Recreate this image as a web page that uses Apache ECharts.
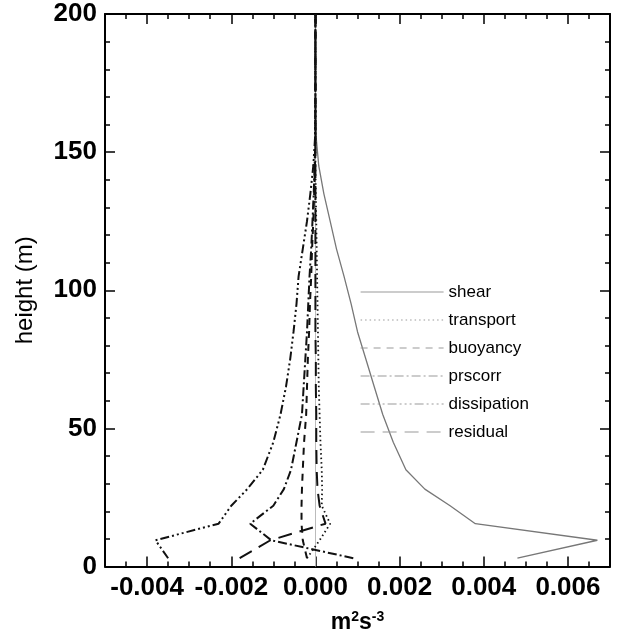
<!DOCTYPE html>
<html>
<head>
<meta charset="utf-8">
<script src="https://cdn.jsdelivr.net/npm/echarts@6/dist/echarts.min.js"></script>
<style>
  html, body { margin: 0; padding: 0; background: #fff; }
  #chart { width: 618px; height: 639px; }
</style>
</head>
<body>
<div id="chart"></div>
<script>
// heights (m) shared by all profiles
const heights = [3, 9.5, 15.5, 22, 28, 35, 45, 55, 65, 75, 85, 95, 105, 115, 125, 135, 145, 155, 170, 185, 200];

// budget terms, m2 s-3
const shear = [0.0048, 0.0067, 0.0038, 0.0032, 0.0026, 0.00215, 0.00185, 0.0016, 0.0014, 0.0012, 0.001, 0.00085, 0.00068, 0.0005, 0.00035, 0.0002, 0.00008, 0.00002, 0, 0, 0];
const transport = [-0.0002, 0.0001, 0.00035, 0.00015, 0.00016, 0.00015, 0.00012, 0.0001, 0.00008, 0.00007, 0.00006, 0.00005, 0.00004, 0.00003, 0.00002, 0.00001, 0, 0, 0, 0, 0];
const buoyancy = [-0.0002, -0.0003, -0.00033, -0.00033, -0.00032, -0.0003, -0.00027, -0.00022, -0.0002, -0.00018, -0.00015, -0.00013, -0.0001, -0.00008, -0.00005, -0.00003, -0.00001, 0, 0, 0, 0];
const prscorr = [0.0009, -0.00105, -0.00155, -0.001, -0.00075, -0.00058, -0.00045, -0.00032, -0.00028, -0.00024, -0.0002, -0.00017, -0.00014, -0.0001, -0.00007, -0.00004, -0.00002, 0, 0, 0, 0];
const dissipation = [-0.0035, -0.0038, -0.0023, -0.002, -0.00162, -0.00125, -0.001, -0.00083, -0.0007, -0.0006, -0.00052, -0.00045, -0.0004, -0.0003, -0.0002, -0.00012, -0.00005, -0.00001, 0, 0, 0];
const residual = [-0.0018, -0.00107, 0.00024, 0.0001, 0.00005, 0.00003, 0.00002, 0.00002, 0.00001, 0.00001, 0, 0, 0, 0, 0, 0, 0, 0, 0, 0, 0];

const xMajor = [-0.004, -0.002, 0, 0.002, 0.004, 0.006];

const chart = echarts.init(document.getElementById("chart"));

const font = "'Liberation Sans', Arial, sans-serif";
const axisLine = { show: true, onZero: false, lineStyle: { color: "#000", width: 2 } };
const noLine = { show: false, onZero: false };
const tickStyle = { width: 1.5, color: "#000" };

// pair each value with its height
const profile = (vals) => vals.map((v, i) => [v, heights[i]]);

const mkSeries = (name, vals, color, type, width) => ({
  name: name,
  type: "line",
  data: profile(vals),
  symbol: "none",
  lineStyle: { color: color, type: type, width: width },
  itemStyle: { color: color },
  z: 3,
});

const seriesShear = mkSeries("shear", shear, "#777", "solid", 1.3);
// thin grey zero line
seriesShear.markLine = {
  silent: true,
  symbol: "none",
  label: { show: false },
  lineStyle: { color: "#bbb", type: "solid", width: 1 },
  data: [{ xAxis: 0 }],
  z: 1,
};

const options = {
  animation: false,
  textStyle: { fontFamily: font },
  grid: { left: 105, right: 8, top: 14, bottom: 69 },
  legend: {
    orient: "vertical",
    left: 360,
    top: 283,
    padding: 0,
    itemWidth: 83,
    itemHeight: 14,
    itemGap: 10,
    itemStyle: { opacity: 0 },
    textStyle: { fontSize: 17, lineHeight: 18, color: "#000", fontFamily: font },
    lineStyle: { color: "#999", width: 1.2 },
    data: ["shear", "transport", "buoyancy", "prscorr", "dissipation", "residual"],
  },
  xAxis: [
    {
      // minor ticks, bottom
      type: "value", position: "bottom", min: -0.005, max: 0.007, interval: 0.0005,
      axisLine: axisLine,
      axisTick: { inside: true, length: 5, lineStyle: tickStyle },
      axisLabel: { show: false }, splitLine: { show: false },
    },
    {
      // major ticks + labels, bottom
      type: "value", position: "bottom", min: -0.005, max: 0.007,
      axisLine: noLine,
      axisTick: { inside: true, length: 10, customValues: xMajor, lineStyle: tickStyle },
      axisLabel: {
        customValues: xMajor, margin: 8,
        fontSize: 26, fontWeight: "bold", color: "#000", fontFamily: font,
        formatter: (v) => v.toFixed(3),
      },
      splitLine: { show: false },
      name: "m{sup|2}s{sup|-3}",
      nameLocation: "middle",
      nameGap: 44,
      nameTextStyle: {
        fontSize: 23, fontWeight: "bold", color: "#000", fontFamily: font,
        rich: { sup: { fontSize: 14, fontWeight: "bold", verticalAlign: "top", padding: [0, 0, 10, 0] } },
      },
    },
    {
      type: "value", position: "top", min: -0.005, max: 0.007, interval: 0.0005,
      axisLine: axisLine,
      axisTick: { inside: true, length: 5, lineStyle: tickStyle },
      axisLabel: { show: false }, splitLine: { show: false },
    },
    {
      type: "value", position: "top", min: -0.005, max: 0.007,
      axisLine: noLine,
      axisTick: { inside: true, length: 10, customValues: xMajor, lineStyle: tickStyle },
      axisLabel: { show: false }, splitLine: { show: false },
    },
  ],
  yAxis: [
    {
      type: "value", position: "left", min: 0, max: 200, interval: 50,
      axisLine: axisLine,
      axisTick: { inside: true, length: 10, lineStyle: tickStyle },
      minorTick: { show: true, splitNumber: 5, length: 5, lineStyle: tickStyle },
      axisLabel: { fontSize: 26, fontWeight: "bold", color: "#000", margin: 8, fontFamily: font },
      splitLine: { show: false },
      name: "height (m)",
      nameLocation: "middle",
      nameGap: 68,
      nameRotate: 90,
      nameTextStyle: { fontSize: 24, color: "#000", fontFamily: font },
    },
    {
      type: "value", position: "right", min: 0, max: 200, interval: 50,
      axisLine: axisLine,
      axisTick: { inside: true, length: 10, lineStyle: tickStyle },
      minorTick: { show: true, splitNumber: 5, length: 5, lineStyle: tickStyle },
      axisLabel: { show: false }, splitLine: { show: false },
    },
  ],
  series: [
    seriesShear,
    mkSeries("transport", transport, "#111", [1.5, 3], 1.8),
    mkSeries("buoyancy", buoyancy, "#111", [7, 6], 2),
    mkSeries("prscorr", prscorr, "#111", [9, 3, 2, 3], 2),
    mkSeries("dissipation", dissipation, "#111", [9, 3, 2, 3, 2, 3, 2, 3], 2),
    mkSeries("residual", residual, "#111", [14, 8], 2),
  ],
};

chart.setOption(options);
</script>
</body>
</html>
